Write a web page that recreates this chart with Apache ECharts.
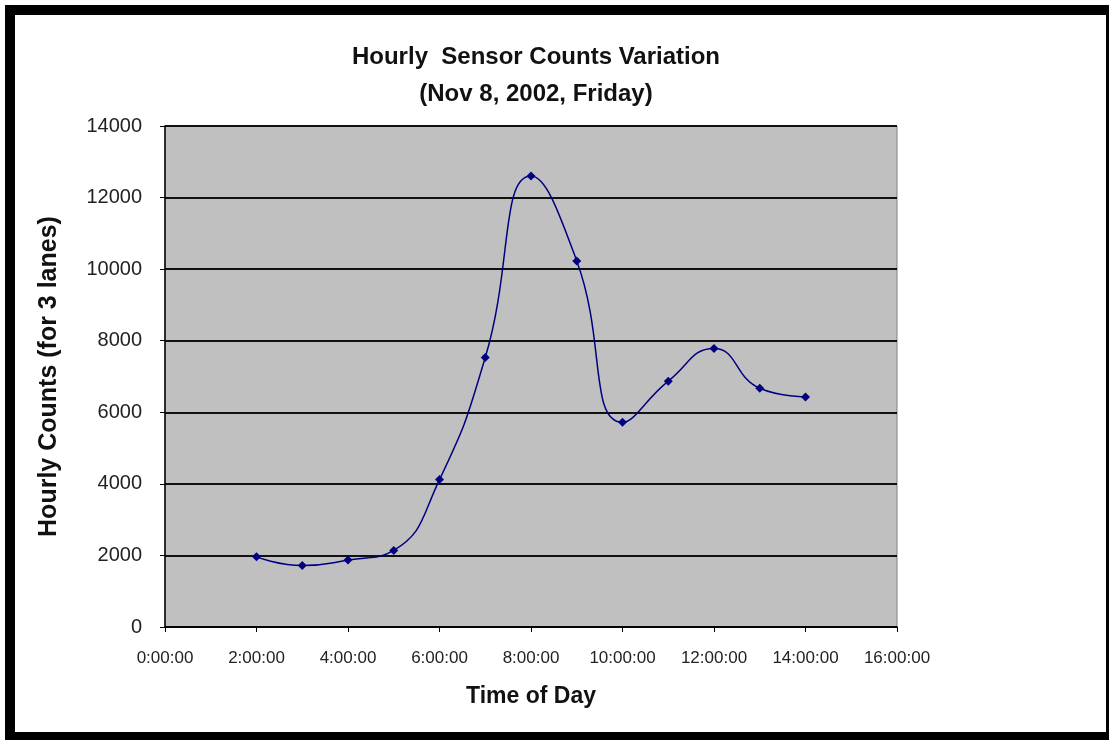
<!DOCTYPE html>
<html>
<head>
<meta charset="utf-8">
<script src="https://cdn.jsdelivr.net/npm/echarts@6/dist/echarts.min.js"></script>
<style>
  html, body { margin: 0; padding: 0; background: #ffffff; }
  .frame {
    position: absolute;
    left: 5px; top: 5px;
    width: 1104px; height: 735px;
    box-sizing: border-box;
    border-top: 10px solid #000;
    border-left: 10px solid #000;
    border-right: 3px solid #000;
    border-bottom: 8px solid #000;
  }
  #main { position: absolute; left: 0; top: 0; width: 1109px; height: 740px; }
</style>
</head>
<body>
<div id="main"></div>
<div class="frame"></div>
<script>
// hour of day and hourly counts
var hours = [2, 3, 4, 5, 6, 7, 8, 9, 10, 11, 12, 13, 14]
var counts = [1960, 1720, 1870, 2140, 4120, 7530, 12600, 10230, 5720, 6870, 7780, 6670, 6430]
var xTicks = ['0:00:00', '2:00:00', '4:00:00', '6:00:00', '8:00:00', '10:00:00', '12:00:00', '14:00:00', '16:00:00']

var chart = echarts.init(document.getElementById('main'))
var font = 'Liberation Sans, Arial, sans-serif'

var option = {
  animation: false,
  title: {
    text: 'Hourly  Sensor Counts Variation\n(Nov 8, 2002, Friday)',
    left: 531,
    textAlign: 'center',
    top: 34,
    textStyle: { fontFamily: font, fontSize: 24, fontWeight: 'bold', color: '#111', lineHeight: 37 }
  },
  grid: {
    left: 165, top: 126, width: 732, height: 501,
    show: true,
    backgroundColor: '#c0c0c0',
    borderColor: '#808080',
    borderWidth: 1
  },
  xAxis: {
    type: 'value',
    min: 0, max: 16, interval: 2,
    name: 'Time of Day',
    nameLocation: 'middle',
    nameGap: 58,
    nameTextStyle: { fontFamily: font, fontSize: 23, fontWeight: 'bold', color: '#111' },
    axisLine: { lineStyle: { color: '#000', width: 1.5 } },
    axisTick: { show: true, length: 5, lineStyle: { color: '#000' } },
    splitLine: { show: false },
    axisLabel: {
      margin: 23,
      fontFamily: font, fontSize: 17, color: '#222',
      formatter: function (v) { return xTicks[v / 2] }
    }
  },
  yAxis: {
    type: 'value',
    min: 0, max: 14000, interval: 2000,
    name: 'Hourly Counts (for 3 lanes)',
    nameLocation: 'middle',
    nameGap: 103,
    nameTextStyle: { fontFamily: font, fontSize: 25, fontWeight: 'bold', color: '#111' },
    axisLine: { show: true, lineStyle: { color: '#000', width: 1.5 } },
    axisTick: { show: true, length: 5, lineStyle: { color: '#000' } },
    splitLine: { show: true, lineStyle: { color: '#111', width: 2 } },
    axisLabel: {
      margin: 23, fontFamily: font, fontSize: 20, color: '#222',
      formatter: function (v) { return String(v) }
    }
  },
  series: [
    {
      type: 'line',
      data: hours.map(function (h, i) { return [h, counts[i]] }),
      smooth: 0.5,
      symbol: 'diamond',
      symbolSize: 9,
      lineStyle: { color: '#000080', width: 1.5 },
      itemStyle: { color: '#000080' }
    }
  ]
}
chart.setOption(option)
</script>
</body>
</html>
